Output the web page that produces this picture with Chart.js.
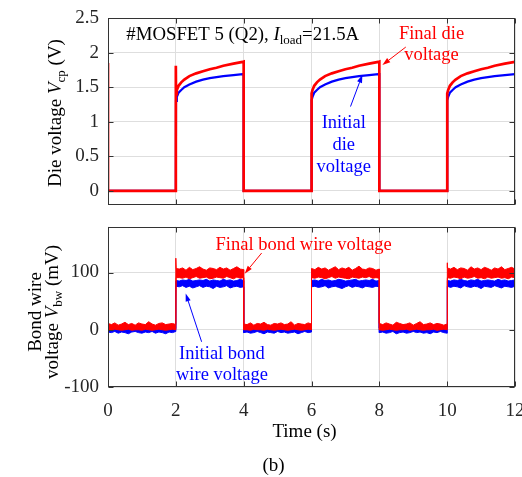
<!DOCTYPE html>
<html><head><meta charset="utf-8">
<script src="https://cdn.jsdelivr.net/npm/chart.js@4.4.1/dist/chart.umd.min.js"></script>
<style>
html,body{margin:0;padding:0;background:#fff;width:522px;height:477px;overflow:hidden}
canvas{position:absolute;left:0}
#c1{top:0}
#c2{top:215px}
</style></head><body>
<canvas id="c1" width="522" height="215"></canvas>
<canvas id="c2" width="522" height="262"></canvas>
<script>
// ---------- DATA ----------
const timeTicks = [0, 2, 4, 6, 8, 10, 12];
const dieTicks = [0, 0.5, 1, 1.5, 2, 2.5];
const bwTicks = [-100, 0, 100];

// Die voltage (V), time (s)
const tDie = [0,0,1,2,
  2,2.005,2.03,2.08,2.16,2.25,2.4,2.6,2.8,3,3.2,3.4,3.7,3.97,4,
  4,5,6,
  6,6.005,6.03,6.08,6.16,6.25,6.4,6.6,6.8,7,7.2,7.4,7.7,7.97,8,
  8,9,10,
  10,10.005,10.03,10.08,10.16,10.25,10.4,10.6,10.8,11,11.2,11.4,11.7,12];
const finalDie = [1.85,0,0,0,
  1.81,1.40,1.46,1.52,1.57,1.61,1.66,1.70,1.73,1.76,1.78,1.81,1.84,1.865,1.87,
  0,0,0,
  1.40,1.41,1.46,1.52,1.57,1.61,1.66,1.70,1.73,1.76,1.78,1.81,1.84,1.865,1.87,
  0,0,0,
  1.40,1.41,1.46,1.52,1.57,1.61,1.66,1.70,1.73,1.76,1.78,1.81,1.84,1.865];
const initialDie = [0,0,0,0,
  0,1.30,1.36,1.42,1.46,1.50,1.54,1.58,1.61,1.63,1.645,1.66,1.675,1.69,1.69,
  0,0,0,
  1.30,1.31,1.36,1.42,1.46,1.50,1.54,1.58,1.61,1.63,1.645,1.66,1.675,1.69,1.69,
  0,0,0,
  1.30,1.31,1.36,1.42,1.46,1.50,1.54,1.58,1.61,1.63,1.645,1.66,1.675,1.69];

// Bond wire voltage (mV): noisy band read as upper / lower envelopes
const tBW = [0,0,0.1,0.2,0.3,0.4,0.5,0.6,0.7,0.8,0.9,1,1.1,1.2,1.3,1.4,1.5,1.6,1.7,1.8,1.9,2,
  2,2.01,2.1,2.2,2.3,2.4,2.5,2.6,2.7,2.8,2.9,3,3.1,3.2,3.3,3.4,3.5,3.6,3.7,3.8,3.9,4,
  4,4.1,4.2,4.3,4.4,4.5,4.6,4.7,4.8,4.9,5,5.1,5.2,5.3,5.4,5.5,5.6,5.7,5.8,5.9,6,
  6,6.1,6.2,6.3,6.4,6.5,6.6,6.7,6.8,6.9,7,7.1,7.2,7.3,7.4,7.5,7.6,7.7,7.8,7.9,8,
  8,8.1,8.2,8.3,8.4,8.5,8.6,8.7,8.8,8.9,9,9.1,9.2,9.3,9.4,9.5,9.6,9.7,9.8,9.9,10,
  10,10.01,10.1,10.2,10.3,10.4,10.5,10.6,10.7,10.8,10.9,11,11.1,11.2,11.3,11.4,11.5,11.6,11.7,11.8,11.9,12];
const finalBWHigh = [100,11,9,12,8,10,13,9,11,8,12,10,9,14,10,8,11,12,9,10,11,9,
  125,107,106,108,104,109,105,107,110,106,104,108,107,105,109,106,108,104,107,110,106,105,
  10,9,12,8,11,10,13,9,8,11,10,12,9,10,14,8,11,10,9,12,10,
  107,105,109,106,108,104,107,110,105,108,106,109,104,107,111,106,105,108,107,104,106,
  11,9,12,10,8,13,11,9,10,12,8,11,14,9,10,12,9,11,10,8,10,
  117,108,106,109,105,108,107,104,110,106,108,105,109,107,104,108,106,110,105,107,109,106];
const finalBWLow = [90,0,-1,1,0,-1,0,1,-1,0,0,-1,1,0,-1,0,1,0,-1,0,1,0,
  0,91,91,90,92,89,91,93,90,91,92,89,90,92,91,90,93,91,89,92,90,91,
  0,0,-1,1,0,0,-1,1,0,-1,0,1,0,-1,0,1,0,-1,0,1,0,
  91,90,92,91,89,91,93,90,92,91,90,89,92,91,90,92,91,93,90,91,90,
  0,-1,0,1,0,-1,0,0,1,-1,0,1,0,-1,0,0,1,-1,0,1,0,
  0,91,90,92,91,89,92,90,91,93,90,91,89,92,90,91,92,90,91,89,92,91];
const initialBWHigh = [86,3,2,3,2,4,3,2,3,2,3,4,2,3,2,3,2,4,3,2,3,2,
  85,86,85,87,86,88,85,86,87,86,88,85,87,86,85,88,86,87,85,86,88,86,
  3,2,3,4,2,3,2,3,4,2,3,2,3,2,4,3,2,3,2,3,2,
  86,87,85,88,86,87,85,86,88,87,85,86,87,88,85,86,87,86,88,85,86,
  3,2,3,2,4,3,2,3,2,3,4,2,3,2,3,2,4,3,2,3,2,
  86,86,85,87,86,88,86,85,87,86,88,85,86,87,86,85,88,86,87,85,86,87];
const initialBWLow = [74,-4,-5,-3,-6,-4,-5,-7,-4,-3,-5,-6,-4,-5,-3,-6,-4,-5,-7,-4,-5,-3,
  76,76,75,77,74,76,73,75,77,74,76,75,72,76,74,75,77,73,75,76,74,75,
  -5,-4,-6,-5,-3,-5,-7,-4,-5,-6,-3,-5,-4,-6,-5,-4,-7,-5,-3,-5,-4,
  75,76,74,75,77,73,75,76,74,72,75,77,74,76,75,73,76,75,74,76,75,
  -5,-4,-6,-5,-3,-7,-5,-4,-6,-5,-3,-5,-4,-6,-5,-7,-4,-5,-3,-5,-6,
  75,76,74,76,75,73,77,75,74,76,75,72,76,75,74,77,75,73,76,75,74,76];

// ---------- STYLE / HELPERS ----------
const SERIF = '"Liberation Serif","Times New Roman",serif';
const AXIS = '#333333', GRID = '#dedede', RED = '#ff0000', BLUE = '#0000ff', TXT = '#262626';
const F = (s, st) => (st ? st + ' ' : '') + s + 'px ' + SERIF;
const pts = (t, v) => t.map((x, i) => ({x: x, y: v[i]}));

function drawRich(ctx, runs, x, y, align) {
  let w = 0;
  for (const r of runs) { ctx.font = r.f; w += ctx.measureText(r.t).width; }
  let cx = align === 'center' ? x - w / 2 : x;
  ctx.textAlign = 'left'; ctx.textBaseline = 'alphabetic';
  for (const r of runs) { ctx.font = r.f; ctx.fillText(r.t, cx, y + (r.dy || 0)); cx += ctx.measureText(r.t).width; }
}
function arrow(ctx, x1, y1, x2, y2, color) {
  ctx.strokeStyle = color; ctx.fillStyle = color; ctx.lineWidth = 1;
  const a = Math.atan2(y2 - y1, x2 - x1), L = 8, W = 2.6;
  const bx = x2 - L * Math.cos(a), by = y2 - L * Math.sin(a);
  ctx.beginPath(); ctx.moveTo(x1, y1); ctx.lineTo(bx, by); ctx.stroke();
  ctx.beginPath(); ctx.moveTo(x2, y2);
  ctx.lineTo(bx + W * Math.sin(a), by - W * Math.cos(a));
  ctx.lineTo(bx - W * Math.sin(a), by + W * Math.cos(a));
  ctx.closePath(); ctx.fill();
}
function frame(chart) {
  const {ctx, chartArea: a, scales: {x, y}} = chart;
  ctx.save(); ctx.strokeStyle = AXIS; ctx.lineWidth = 1;
  const L = Math.round(a.left) + 0.5, R = Math.round(a.right) - 0.5, T = Math.round(a.top) + 0.5, B = Math.round(a.bottom) - 0.5;
  ctx.strokeRect(L, T, R - L, B - T);
  ctx.beginPath();
  x.ticks.forEach(t => { const p = Math.round(x.getPixelForValue(t.value)) + 0.5; ctx.moveTo(p, B); ctx.lineTo(p, B - 5); ctx.moveTo(p, T); ctx.lineTo(p, T + 5); });
  y.ticks.forEach(t => { const p = Math.round(y.getPixelForValue(t.value)) + 0.5; ctx.moveTo(L, p); ctx.lineTo(L + 5, p); ctx.moveTo(R, p); ctx.lineTo(R - 5, p); });
  ctx.stroke(); ctx.restore();
}
const setTicks = list => s => { s.ticks = list.map(v => ({value: v})); };
const gridOpt = {color: GRID, drawTicks: false, lineWidth: 1};

// ---------- TOP CHART ----------
new Chart(document.getElementById('c1'), {
  type: 'line',
  data: {datasets: [
    {data: pts(tDie, finalDie), borderColor: RED, borderWidth: 2.7, pointRadius: 0, tension: 0, fill: false},
    {data: pts(tDie, initialDie), borderColor: BLUE, borderWidth: 2.2, pointRadius: 0, tension: 0, fill: false}
  ]},
  options: {
    responsive: false, animation: false, devicePixelRatio: 1,
    layout: {padding: {left: 0, right: 7, top: 18, bottom: 10.2}},
    plugins: {legend: {display: false}, tooltip: {enabled: false}},
    scales: {
      x: {type: 'linear', min: 0, max: 12, afterBuildTicks: setTicks(timeTicks),
          ticks: {display: false}, grid: gridOpt, border: {display: false},
          afterFit: s => { s.height = 0; s.paddingLeft = 0; s.paddingRight = 0; }},
      y: {type: 'linear', min: -0.2, max: 2.5, afterBuildTicks: setTicks(dieTicks),
          ticks: {font: {family: SERIF, size: 19}, color: TXT, padding: 9, callback: v => String(v)},
          grid: gridOpt, border: {display: false},
          afterFit: s => { s.width = 108; s.paddingTop = 0; s.paddingBottom = 0; }}
    }
  },
  plugins: [{id: 'decoTop', afterDraw(chart) {
    frame(chart);
    const {ctx, scales: {x, y}} = chart;
    const X = v => x.getPixelForValue(v), Y = v => y.getPixelForValue(v);
    ctx.save();
    ctx.fillStyle = '#000';
    ctx.translate(61, 113); ctx.rotate(-Math.PI / 2);
    drawRich(ctx, [{t: 'Die voltage ', f: F(19)}, {t: 'V', f: F(19, 'italic')}, {t: 'cp', f: F(13), dy: 4}, {t: ' (V)', f: F(19)}], 0, 0, 'center');
    ctx.restore();
    ctx.save();
    ctx.fillStyle = '#000';
    drawRich(ctx, [{t: '#MOSFET 5 (Q2), ', f: F(18.8)}, {t: 'I', f: F(18.8, 'italic')}, {t: 'load', f: F(13), dy: 4}, {t: '=21.5A', f: F(18.8)}], X(0.54), Y(2.18), 'left');
    ctx.fillStyle = RED;
    drawRich(ctx, [{t: 'Final die', f: F(18.5)}], X(9.54), Y(2.195), 'center');
    drawRich(ctx, [{t: 'voltage', f: F(18.5)}], X(9.54), Y(1.89), 'center');
    ctx.fillStyle = BLUE;
    drawRich(ctx, [{t: 'Initial', f: F(18.5)}], X(6.95), Y(0.916), 'center');
    drawRich(ctx, [{t: 'die', f: F(18.5)}], X(6.95), Y(0.596), 'center');
    drawRich(ctx, [{t: 'voltage', f: F(18.5)}], X(6.95), Y(0.276), 'center');
    arrow(ctx, X(8.78), Y(2.08), X(8.09), Y(1.82), RED);
    arrow(ctx, X(7.15), Y(1.22), X(7.5), Y(1.68), BLUE);
    ctx.restore();
  }}]
});

// ---------- BOTTOM CHART ----------
const band = (v, color, fill) => ({data: pts(tBW, v), borderColor: color, backgroundColor: color, borderWidth: 1, pointRadius: 0, tension: 0, fill: fill});
new Chart(document.getElementById('c2'), {
  type: 'line',
  data: {datasets: [
    band(finalBWLow, RED, false),
    band(finalBWHigh, RED, '-1'),
    band(initialBWLow, BLUE, false),
    band(initialBWHigh, BLUE, '-1')
  ]},
  options: {
    responsive: false, animation: false, devicePixelRatio: 1,
    layout: {padding: {left: 0, right: 7, top: 11.7, bottom: 0}},
    plugins: {legend: {display: false}, tooltip: {enabled: false}},
    scales: {
      x: {type: 'linear', min: 0, max: 12, afterBuildTicks: setTicks(timeTicks),
          ticks: {font: {family: SERIF, size: 19}, color: TXT, padding: 13, maxRotation: 0, callback: v => String(v)},
          grid: gridOpt, border: {display: false},
          afterFit: s => { s.height = 90; s.paddingLeft = 0; s.paddingRight = 0; }},
      y: {type: 'linear', min: -100, max: 180, afterBuildTicks: setTicks(bwTicks),
          ticks: {font: {family: SERIF, size: 19}, color: TXT, padding: 9, callback: v => String(v)},
          grid: gridOpt, border: {display: false},
          afterFit: s => { s.width = 108; s.paddingTop = 0; s.paddingBottom = 0; }}
    }
  },
  plugins: [{id: 'decoBot', afterDraw(chart) {
    frame(chart);
    const {ctx, scales: {x, y}} = chart;
    const X = v => x.getPixelForValue(v), Y = v => y.getPixelForValue(v);
    ctx.save();
    ctx.fillStyle = '#000';
    ctx.translate(0, 97); ctx.rotate(-Math.PI / 2);
    drawRich(ctx, [{t: 'Bond wire', f: F(19)}], 0, 41, 'center');
    drawRich(ctx, [{t: 'voltage ', f: F(19)}, {t: 'V', f: F(19, 'italic')}, {t: 'bw', f: F(13), dy: 4}, {t: ' (mV)', f: F(19)}], 0, 58, 'center');
    ctx.restore();
    ctx.save();
    ctx.fillStyle = '#000';
    drawRich(ctx, [{t: 'Time (s)', f: F(19)}], 304.5, 222, 'center');
    drawRich(ctx, [{t: '(b)', f: F(19)}], 273.5, 256, 'center');
    ctx.fillStyle = RED;
    drawRich(ctx, [{t: 'Final bond wire voltage', f: F(18.5)}], X(5.77), Y(139), 'center');
    ctx.fillStyle = BLUE;
    drawRich(ctx, [{t: 'Initial bond', f: F(18.5)}], X(3.36), Y(-51), 'center');
    drawRich(ctx, [{t: 'wire voltage', f: F(18.5)}], X(3.36), Y(-87), 'center');
    arrow(ctx, X(4.53), Y(134), X(4.03), Y(98), RED);
    arrow(ctx, X(2.76), Y(-21), X(2.29), Y(63.5), BLUE);
    ctx.restore();
  }}]
});
</script></body></html>
